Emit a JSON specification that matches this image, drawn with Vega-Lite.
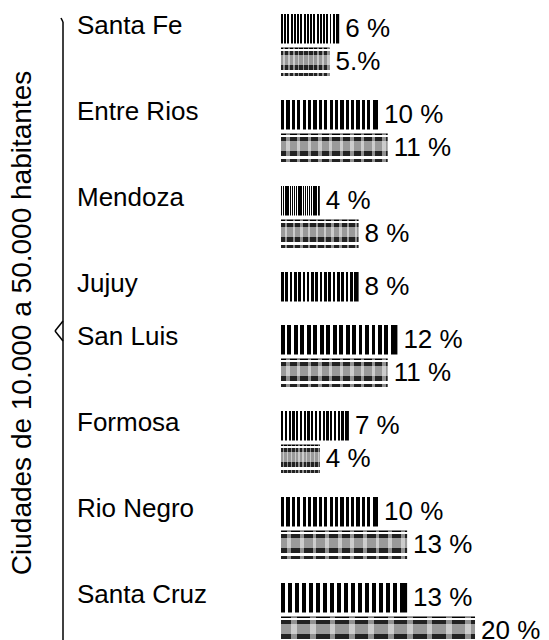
{
  "$schema": "https://vega.github.io/schema/vega-lite/v6.json",
  "padding": {"left": 8, "top": 12, "right": 0, "bottom": 0},
  "background": "white",
  "config": {"view": {"stroke": null}, "font": "Liberation Sans"},
  "datasets": {
    "filas": [
      {"provincia": "Santa Fe", "tipo": "rayado", "valor": 6, "etiqueta": "6 %"},
      {"provincia": "Santa Fe", "tipo": "sombreado", "valor": 5, "etiqueta": "5.%"},
      {"provincia": "Entre Rios", "tipo": "rayado", "valor": 10, "etiqueta": "10 %"},
      {"provincia": "Entre Rios", "tipo": "sombreado", "valor": 11, "etiqueta": "11 %"},
      {"provincia": "Mendoza", "tipo": "rayado", "valor": 4, "etiqueta": "4 %"},
      {"provincia": "Mendoza", "tipo": "sombreado", "valor": 8, "etiqueta": "8 %"},
      {"provincia": "Jujuy", "tipo": "rayado", "valor": 8, "etiqueta": "8 %"},
      {"provincia": "San Luis", "tipo": "rayado", "valor": 12, "etiqueta": "12 %"},
      {"provincia": "San Luis", "tipo": "sombreado", "valor": 11, "etiqueta": "11 %"},
      {"provincia": "Formosa", "tipo": "rayado", "valor": 7, "etiqueta": "7 %"},
      {"provincia": "Formosa", "tipo": "sombreado", "valor": 4, "etiqueta": "4 %"},
      {"provincia": "Rio Negro", "tipo": "rayado", "valor": 10, "etiqueta": "10 %"},
      {"provincia": "Rio Negro", "tipo": "sombreado", "valor": 13, "etiqueta": "13 %"},
      {"provincia": "Santa Cruz", "tipo": "rayado", "valor": 13, "etiqueta": "13 %"},
      {"provincia": "Santa Cruz", "tipo": "sombreado", "valor": 20, "etiqueta": "20 %"}
    ]
  },
  "spacing": 12,
  "hconcat": [
    {
      "data": {"values": [{}]},
      "width": 12,
      "height": 617,
      "layer": [
        {
          "mark": {"type": "rule", "stroke": "black", "strokeWidth": 1.5},
          "encoding": {
            "x": {"datum": 10, "type": "quantitative", "scale": {"domain": [0, 12], "nice": false, "zero": false}, "axis": null},
            "y": {"datum": 8, "type": "quantitative", "scale": {"domain": [0, 617], "reverse": true, "nice": false, "zero": false},
              "axis": {"title": "Ciudades de 10.000 a 50.000 habitantes", "labels": false, "ticks": false, "domain": false, "grid": false,
                "titleFontSize": 28, "titleFontWeight": "normal", "titleColor": "black", "titleFont": "Liberation Sans", "titlePadding": 17}},
            "y2": {"datum": 640}
          }
        },
        {
          "mark": {"type": "rule", "stroke": "black", "strokeWidth": 1.5},
          "encoding": {
            "x": {"datum": 10, "type": "quantitative"},
            "x2": {"datum": 8},
            "y": {"datum": 8, "type": "quantitative"},
            "y2": {"datum": 4}
          }
        },
        {
          "mark": {"type": "rule", "stroke": "black", "strokeWidth": 1.5},
          "encoding": {
            "x": {"datum": 10, "type": "quantitative"},
            "x2": {"datum": 2},
            "y": {"datum": 307, "type": "quantitative"},
            "y2": {"datum": 317}
          }
        },
        {
          "mark": {"type": "rule", "stroke": "black", "strokeWidth": 1.5},
          "encoding": {
            "x": {"datum": 2, "type": "quantitative"},
            "x2": {"datum": 10},
            "y": {"datum": 317, "type": "quantitative"},
            "y2": {"datum": 327}
          }
        }
      ]
    },
    {
      "data": {"name": "filas"},
      "facet": {
        "row": {"field": "provincia", "type": "nominal",
          "sort": ["Santa Fe", "Entre Rios", "Mendoza", "Jujuy", "San Luis", "Formosa", "Rio Negro", "Santa Cruz"],
          "header": {"labels": false, "title": null}}
      },
      "spacing": {"row": 21},
      "resolve": {"scale": {"y": "independent"}},
      "spec": {
        "width": 470,
        "height": {"step": 33.5},
        "encoding": {
          "y": {"field": "tipo", "type": "nominal", "scale": {"paddingInner": 0.12, "paddingOuter": 0}, "axis": null},
          "x": {"field": "valor", "type": "quantitative", "scale": {"domain": [-21.03, 27.42], "nice": false}, "axis": null}
        },
        "layer": [
          {
            "transform": [{"filter": "datum.tipo === 'rayado'"}],
            "mark": {"type": "bar", "stroke": null, "fill": {
              "gradient": "linear", "x1": 0, "y1": 0, "x2": 1, "y2": 0,
              "stops": [
                {"offset": 0, "color": "black"}, {"offset": 0.0333, "color": "black"}, {"offset": 0.0333, "color": "white"}, {"offset": 0.0556, "color": "white"},
                {"offset": 0.0556, "color": "black"}, {"offset": 0.0889, "color": "black"}, {"offset": 0.0889, "color": "white"}, {"offset": 0.1111, "color": "white"},
                {"offset": 0.1111, "color": "black"}, {"offset": 0.1444, "color": "black"}, {"offset": 0.1444, "color": "white"}, {"offset": 0.1667, "color": "white"},
                {"offset": 0.1667, "color": "black"}, {"offset": 0.2, "color": "black"}, {"offset": 0.2, "color": "white"}, {"offset": 0.2222, "color": "white"},
                {"offset": 0.2222, "color": "black"}, {"offset": 0.2556, "color": "black"}, {"offset": 0.2556, "color": "white"}, {"offset": 0.2778, "color": "white"},
                {"offset": 0.2778, "color": "black"}, {"offset": 0.3111, "color": "black"}, {"offset": 0.3111, "color": "white"}, {"offset": 0.3333, "color": "white"},
                {"offset": 0.3333, "color": "black"}, {"offset": 0.3667, "color": "black"}, {"offset": 0.3667, "color": "white"}, {"offset": 0.3889, "color": "white"},
                {"offset": 0.3889, "color": "black"}, {"offset": 0.4222, "color": "black"}, {"offset": 0.4222, "color": "white"}, {"offset": 0.4444, "color": "white"},
                {"offset": 0.4444, "color": "black"}, {"offset": 0.4778, "color": "black"}, {"offset": 0.4778, "color": "white"}, {"offset": 0.5, "color": "white"},
                {"offset": 0.5, "color": "black"}, {"offset": 0.5333, "color": "black"}, {"offset": 0.5333, "color": "white"}, {"offset": 0.5556, "color": "white"},
                {"offset": 0.5556, "color": "black"}, {"offset": 0.5889, "color": "black"}, {"offset": 0.5889, "color": "white"}, {"offset": 0.6111, "color": "white"},
                {"offset": 0.6111, "color": "black"}, {"offset": 0.6444, "color": "black"}, {"offset": 0.6444, "color": "white"}, {"offset": 0.6667, "color": "white"},
                {"offset": 0.6667, "color": "black"}, {"offset": 0.7, "color": "black"}, {"offset": 0.7, "color": "white"}, {"offset": 0.7222, "color": "white"},
                {"offset": 0.7222, "color": "black"}, {"offset": 0.7556, "color": "black"}, {"offset": 0.7556, "color": "white"}, {"offset": 0.7778, "color": "white"},
                {"offset": 0.7778, "color": "black"}, {"offset": 0.8111, "color": "black"}, {"offset": 0.8111, "color": "white"}, {"offset": 0.8333, "color": "white"},
                {"offset": 0.8333, "color": "black"}, {"offset": 0.8667, "color": "black"}, {"offset": 0.8667, "color": "white"}, {"offset": 0.8889, "color": "white"},
                {"offset": 0.8889, "color": "black"}, {"offset": 0.9222, "color": "black"}, {"offset": 0.9222, "color": "white"}, {"offset": 0.9444, "color": "white"},
                {"offset": 0.9444, "color": "black"}, {"offset": 1, "color": "black"}
              ]}}
          },
          {
            "transform": [{"filter": "datum.tipo === 'sombreado'"}],
            "mark": {"type": "bar", "stroke": null, "fill": {
              "gradient": "linear", "x1": 0, "y1": 0, "x2": 0, "y2": 1,
              "stops": [
                {"offset": 0, "color": "black"}, {"offset": 0.06, "color": "black"}, {"offset": 0.06, "color": "white"}, {"offset": 0.12, "color": "white"},
                {"offset": 0.12, "color": "#222222"}, {"offset": 0.26, "color": "#222222"}, {"offset": 0.26, "color": "#9a9a9a"}, {"offset": 0.6, "color": "#9a9a9a"},
                {"offset": 0.6, "color": "#222222"}, {"offset": 0.76, "color": "#222222"}, {"offset": 0.76, "color": "white"}, {"offset": 0.86, "color": "white"},
                {"offset": 0.86, "color": "#222222"}, {"offset": 0.95, "color": "#222222"}, {"offset": 0.95, "color": "white"}, {"offset": 1, "color": "white"}
              ]}}
          },
          {
            "transform": [{"filter": "datum.tipo === 'sombreado'"}],
            "mark": {"type": "bar", "stroke": null, "fill": {
              "gradient": "linear", "x1": 0, "y1": 0, "x2": 1, "y2": 0,
              "stops": [
                {"offset": 0, "color": "rgba(255,255,255,0)"}, {"offset": 0.05, "color": "rgba(255,255,255,0)"}, {"offset": 0.05, "color": "rgba(255,255,255,0.5)"}, {"offset": 0.08, "color": "rgba(255,255,255,0.5)"},
                {"offset": 0.08, "color": "rgba(255,255,255,0)"}, {"offset": 0.15, "color": "rgba(255,255,255,0)"}, {"offset": 0.15, "color": "rgba(255,255,255,0.5)"}, {"offset": 0.18, "color": "rgba(255,255,255,0.5)"},
                {"offset": 0.18, "color": "rgba(255,255,255,0)"}, {"offset": 0.25, "color": "rgba(255,255,255,0)"}, {"offset": 0.25, "color": "rgba(255,255,255,0.5)"}, {"offset": 0.28, "color": "rgba(255,255,255,0.5)"},
                {"offset": 0.28, "color": "rgba(255,255,255,0)"}, {"offset": 0.35, "color": "rgba(255,255,255,0)"}, {"offset": 0.35, "color": "rgba(255,255,255,0.5)"}, {"offset": 0.38, "color": "rgba(255,255,255,0.5)"},
                {"offset": 0.38, "color": "rgba(255,255,255,0)"}, {"offset": 0.45, "color": "rgba(255,255,255,0)"}, {"offset": 0.45, "color": "rgba(255,255,255,0.5)"}, {"offset": 0.48, "color": "rgba(255,255,255,0.5)"},
                {"offset": 0.48, "color": "rgba(255,255,255,0)"}, {"offset": 0.55, "color": "rgba(255,255,255,0)"}, {"offset": 0.55, "color": "rgba(255,255,255,0.5)"}, {"offset": 0.58, "color": "rgba(255,255,255,0.5)"},
                {"offset": 0.58, "color": "rgba(255,255,255,0)"}, {"offset": 0.65, "color": "rgba(255,255,255,0)"}, {"offset": 0.65, "color": "rgba(255,255,255,0.5)"}, {"offset": 0.68, "color": "rgba(255,255,255,0.5)"},
                {"offset": 0.68, "color": "rgba(255,255,255,0)"}, {"offset": 0.75, "color": "rgba(255,255,255,0)"}, {"offset": 0.75, "color": "rgba(255,255,255,0.5)"}, {"offset": 0.78, "color": "rgba(255,255,255,0.5)"},
                {"offset": 0.78, "color": "rgba(255,255,255,0)"}, {"offset": 0.85, "color": "rgba(255,255,255,0)"}, {"offset": 0.85, "color": "rgba(255,255,255,0.5)"}, {"offset": 0.88, "color": "rgba(255,255,255,0.5)"},
                {"offset": 0.88, "color": "rgba(255,255,255,0)"}, {"offset": 0.95, "color": "rgba(255,255,255,0)"}, {"offset": 0.95, "color": "rgba(255,255,255,0.5)"}, {"offset": 0.98, "color": "rgba(255,255,255,0.5)"},
                {"offset": 0.98, "color": "rgba(255,255,255,0)"}, {"offset": 1, "color": "rgba(255,255,255,0)"}
              ]}}
          },
          {
            "mark": {"type": "text", "align": "left", "baseline": "middle", "dx": 6, "fontSize": 26, "color": "black", "font": "Liberation Sans"},
            "encoding": {"text": {"field": "etiqueta", "type": "nominal"}}
          },
          {
            "transform": [{"filter": "datum.tipo === 'rayado'"}],
            "mark": {"type": "text", "align": "left", "baseline": "middle", "dy": -3, "fontSize": 26, "color": "black", "font": "Liberation Sans"},
            "encoding": {
              "x": {"datum": -21.03, "type": "quantitative"},
              "text": {"field": "provincia", "type": "nominal"}
            }
          }
        ]
      }
    }
  ]
}
